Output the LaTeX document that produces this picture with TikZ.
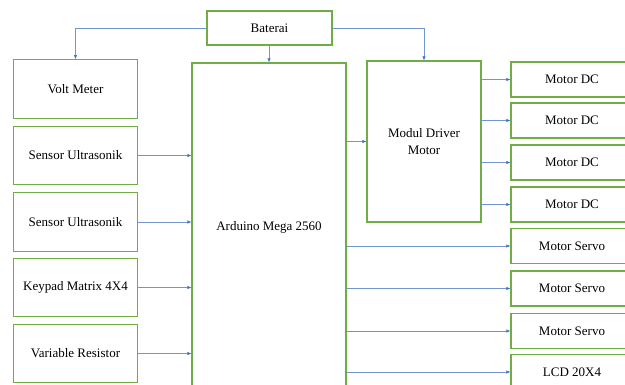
\documentclass[tikz,border=0pt]{standalone}
\usepackage{fontspec}
\setmainfont{Liberation Serif}
\usetikzlibrary{arrows.meta}
\definecolor{boxgreen}{HTML}{70AD47}
\definecolor{linkblue}{HTML}{4472C4}

\begin{document}
\begin{tikzpicture}[x=1pt, y=-1pt,
    blok/.style={draw=boxgreen, line width=1.1pt, align=center, inner sep=0pt,
      font=\fontsize{13}{17}\selectfont},
    kiri/.style={blok, minimum width=124pt, minimum height=58.5pt},
    kanan/.style={blok, minimum width=122pt, minimum height=35pt},
    panah/.style={draw=linkblue!75, line width=0.6pt,
      -{Latex[length=4pt, width=3.4pt, color=linkblue]}}]
      \useasboundingbox (0,0) rectangle (625,385);

      % Supply
      \node[blok, minimum width=125pt, minimum height=34pt] (bat) at (269.5,28) {Baterai};

      % Inputs
      \node[kiri] (volt) at (75.5,89) {Volt Meter};
      \node[kiri] (us1) at (75.5,155.5) {Sensor Ultrasonik};
      \node[kiri] (us2) at (75.5,222) {Sensor Ultrasonik};
      \node[kiri] (key) at (75.5,287.5) {Keypad Matrix 4X4};
      \node[kiri] (vr) at (75.5,353.5) {Variable Resistor};

      % Controller and driver
      \node[blok, minimum width=154pt, minimum height=328pt] (ard) at (269,227) {Arduino Mega 2560};
      \node[blok, minimum width=114pt, minimum height=161pt] (drv) at (424,141.5) {Modul Driver\\Motor};

      % Outputs
      \node[kanan] (dc1) at (572,79.5) {Motor DC};
      \node[kanan] (dc2) at (572,120.5) {Motor DC};
      \node[kanan] (dc3) at (572,162.5) {Motor DC};
      \node[kanan] (dc4) at (572,204.5) {Motor DC};
      \node[kanan] (srv1) at (572,246) {Motor Servo};
      \node[kanan] (srv2) at (572,288.5) {Motor Servo};
      \node[kanan] (srv3) at (572,331) {Motor Servo};
      \node[kanan] (lcd) at (572,372) {LCD 20X4};

      % Power lines
      \draw[panah] (bat.west) -| (volt.north);
      \draw[panah] (bat.south -| ard.north) -- (ard.north);
      \draw[panah] (bat.east) -| (drv.north);

      % Signal lines
      \foreach \src in {us1,us2,key,vr}
        \draw[panah] (\src.east) -- (\src.east -| ard.west);
      \draw[panah] (ard.east |- drv.west) -- (drv.west);
      \foreach \dst in {dc1,dc2,dc3,dc4}
        \draw[panah] (drv.east |- \dst.west) -- (\dst.west);
      \foreach \dst in {srv1,srv2,srv3,lcd}
        \draw[panah] (ard.east |- \dst.west) -- (\dst.west);
    \end{tikzpicture}
\end{document}
